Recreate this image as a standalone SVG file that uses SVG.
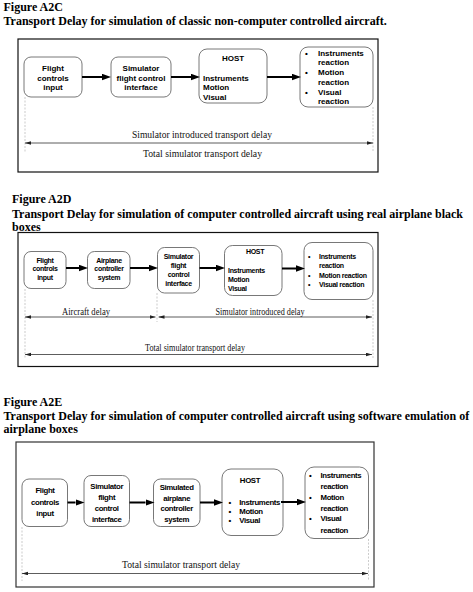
<svg xmlns="http://www.w3.org/2000/svg" width="473" height="592" viewBox="0 0 473 592">
<defs>
<marker id="ah" markerUnits="userSpaceOnUse" markerWidth="9" markerHeight="7" refX="0" refY="3.25" orient="auto"><path d="M0,0 L9,3.25 L0,6.5 z" fill="#000"/></marker>
<marker id="dh" markerUnits="userSpaceOnUse" markerWidth="6" markerHeight="4" refX="6" refY="1.8" orient="auto-start-reverse"><path d="M0,0 L6,1.8 L0,3.6 z" fill="#222"/></marker>
</defs>
<style>
.ttl{font-family:"Liberation Serif","Times New Roman",serif;font-weight:bold;font-size:12px;fill:#000}
.frame{fill:none;stroke:#111;stroke-width:1.2}
.box{fill:#fff;stroke:#555;stroke-width:0.8}
.c{font-family:"Liberation Sans",Arial,sans-serif;font-weight:bold;font-size:8px;fill:#000}
.d{font-family:"Liberation Sans",Arial,sans-serif;font-weight:bold;font-size:7px;letter-spacing:-0.3px;fill:#000}
.e{font-family:"Liberation Sans",Arial,sans-serif;font-weight:bold;font-size:7.8px;letter-spacing:-0.35px;fill:#000}
.m{text-anchor:middle}
.lbl{font-family:"Liberation Serif","Times New Roman",serif;font-size:9.5px;fill:#111;text-anchor:middle}
.arr{stroke:#000;stroke-width:2;fill:none;marker-end:url(#ah)}
.dim{stroke:#333;stroke-width:0.8;fill:none;marker-start:url(#dh);marker-end:url(#dh)}
.guide{stroke:#aaa;stroke-width:0.6;stroke-dasharray:2 1.5;fill:none}
</style>
<rect width="473" height="592" fill="#fff"/>

<!-- ===== Figure A2C ===== -->
<g id="a2c-title">
<text class="ttl" x="3.5" y="10.5">Figure A2C</text>
<text class="ttl" x="3.5" y="24.5">Transport Delay for simulation of classic non-computer controlled aircraft.</text>
</g>
<rect id="a2c-frame" class="frame" x="18" y="39" width="360" height="133"/>
<g id="a2c-n1"><rect class="box" x="24" y="57" width="58" height="40" rx="7"/>
<text class="c m" x="53" y="71">Flight</text><text class="c m" x="53" y="80.5">controls</text><text class="c m" x="53" y="90">input</text></g>
<g id="a2c-n2"><rect class="box" x="111" y="57" width="60" height="40" rx="7"/>
<text class="c m" x="141" y="71">Simulator</text><text class="c m" x="141" y="80.5">flight control</text><text class="c m" x="141" y="90">interface</text></g>
<g id="a2c-n3"><rect class="box" x="199" y="49" width="68" height="54" rx="8"/>
<text class="c m" x="233" y="61">HOST</text><text class="c" x="203" y="80.7">Instruments</text><text class="c" x="203" y="90.3">Motion</text><text class="c" x="203" y="99.8">Visual</text></g>
<g id="a2c-n4"><rect class="box" x="300" y="47" width="73" height="60" rx="8"/>
<text class="c" x="305" y="55.5">•</text><text class="c" x="318" y="55.5">Instruments</text><text class="c" x="318" y="65">reaction</text>
<text class="c" x="305" y="75">•</text><text class="c" x="318" y="75">Motion</text><text class="c" x="318" y="84.5">reaction</text>
<text class="c" x="305" y="94.5">•</text><text class="c" x="318" y="94.5">Visual</text><text class="c" x="318" y="104">reaction</text></g>
<g id="a2c-connectors">
<line class="arr" x1="82" y1="77" x2="102" y2="77"/>
<line class="arr" x1="171" y1="77" x2="191" y2="77"/>
<line class="arr" x1="267" y1="77" x2="292" y2="77"/>
<line class="guide" x1="25" y1="97" x2="25" y2="152"/>
<line class="guide" x1="373" y1="107" x2="373" y2="152"/>
<line class="dim" x1="25" y1="143" x2="373" y2="143"/>
<text class="lbl" x="202" y="138" textLength="140" lengthAdjust="spacingAndGlyphs">Simulator introduced transport delay</text>
<text class="lbl" x="202.5" y="156.5" textLength="119" lengthAdjust="spacingAndGlyphs">Total simulator transport delay</text>
</g>

<!-- ===== Figure A2D ===== -->
<g id="a2d-title">
<text class="ttl" x="12" y="203">Figure A2D</text>
<text class="ttl" x="12" y="217.5">Transport Delay for simulation of computer controlled aircraft using real airplane black</text>
<text class="ttl" x="12" y="230.5">boxes</text>
</g>
<rect id="a2d-frame" class="frame" x="18" y="232.5" width="360" height="134"/>
<g id="a2d-n1"><rect class="box" x="24" y="251.5" width="42" height="37" rx="7"/>
<text class="d m" x="45" y="262.5">Flight</text><text class="d m" x="45" y="271">controls</text><text class="d m" x="45" y="279.5">input</text></g>
<g id="a2d-n2"><rect class="box" x="87.5" y="251.5" width="42.5" height="37" rx="7"/>
<text class="d m" x="109" y="262.5">Airplane</text><text class="d m" x="109" y="271">controller</text><text class="d m" x="109" y="279.5">system</text></g>
<g id="a2d-n3"><rect class="box" x="157.5" y="247.5" width="42" height="45.5" rx="7"/>
<text class="d m" x="178.5" y="259">Simulator</text><text class="d m" x="178.5" y="268">flight</text><text class="d m" x="178.5" y="277">control</text><text class="d m" x="178.5" y="286">interface</text></g>
<g id="a2d-n4"><rect class="box" x="224.5" y="245.5" width="57.5" height="50" rx="8"/>
<text class="d m" x="255" y="254">HOST</text><text class="d" x="228" y="272.5">Instruments</text><text class="d" x="228" y="281.5">Motion</text><text class="d" x="228" y="290.5">Visual</text></g>
<g id="a2d-n5"><rect class="box" x="304" y="242.5" width="69" height="57" rx="8"/>
<text class="d" x="308" y="259">•</text><text class="d" x="319" y="259">Instruments</text><text class="d" x="319" y="268">reaction</text>
<text class="d" x="308" y="277.5">•</text><text class="d" x="319" y="277.5">Motion reaction</text>
<text class="d" x="308" y="286.5">•</text><text class="d" x="319" y="286.5">Visual reaction</text></g>
<g id="a2d-connectors">
<line class="arr" x1="66" y1="268" x2="79" y2="268"/>
<line class="arr" x1="130" y1="268" x2="149" y2="268"/>
<line class="arr" x1="199.5" y1="268" x2="216" y2="268"/>
<line class="arr" x1="282" y1="268.5" x2="296" y2="268.5"/>
<line class="guide" x1="25" y1="289" x2="25" y2="358"/>
<line class="guide" x1="157" y1="293" x2="157" y2="322"/>
<line class="guide" x1="373" y1="300" x2="373" y2="358"/>
<line class="dim" x1="25" y1="317" x2="155.5" y2="317"/>
<line class="dim" x1="158.5" y1="317" x2="372" y2="317"/>
<line class="dim" x1="25" y1="354.5" x2="372" y2="354.5"/>
<text class="lbl" x="86" y="314.5" textLength="48" lengthAdjust="spacingAndGlyphs">Aircraft delay</text>
<text class="lbl" x="260" y="314.5" textLength="89" lengthAdjust="spacingAndGlyphs">Simulator introduced delay</text>
<text class="lbl" x="195" y="350.5" textLength="100" lengthAdjust="spacingAndGlyphs">Total simulator transport delay</text>
</g>

<!-- ===== Figure A2E ===== -->
<g id="a2e-title">
<text class="ttl" x="3.5" y="405.5">Figure A2E</text>
<text class="ttl" x="3.5" y="419.5">Transport Delay for simulation of computer controlled aircraft using software emulation of</text>
<text class="ttl" x="3.5" y="433">airplane boxes</text>
</g>
<rect id="a2e-frame" class="frame" x="16" y="442" width="358" height="145" style="stroke:#333"/>
<g id="a2e-n1"><rect class="box" x="22" y="479" width="45.5" height="47.5" rx="7"/>
<text class="e m" x="45" y="493">Flight</text><text class="e m" x="45" y="504.5">controls</text><text class="e m" x="45" y="516">input</text></g>
<g id="a2e-n2"><rect class="box" x="84" y="475.5" width="45.5" height="51" rx="7"/>
<text class="e m" x="106.7" y="488.5">Simulator</text><text class="e m" x="106.7" y="499.5">flight</text><text class="e m" x="106.7" y="510.5">control</text><text class="e m" x="106.7" y="521.8">interface</text></g>
<g id="a2e-n3"><rect class="box" x="153.5" y="479" width="46.5" height="47.5" rx="7"/>
<text class="e m" x="176.7" y="489.5">Simulated</text><text class="e m" x="176.7" y="500.5">airplane</text><text class="e m" x="176.7" y="511.2">controller</text><text class="e m" x="176.7" y="522.2">system</text></g>
<g id="a2e-n4"><rect class="box" x="222" y="469" width="61" height="66.5" rx="9"/>
<text class="e m" x="250" y="483">HOST</text>
<text class="e" x="228.5" y="504.5">•</text><text class="e" x="239.3" y="504.5">Instruments</text>
<text class="e" x="228.5" y="513.8">•</text><text class="e" x="239.3" y="513.8">Motion</text>
<text class="e" x="228.5" y="523">•</text><text class="e" x="239.3" y="523">Visual</text></g>
<g id="a2e-n5"><rect class="box" x="305" y="467" width="63.5" height="71.5" rx="9"/>
<text class="e" x="309" y="477.8">•</text><text class="e" x="320.5" y="477.8">Instruments</text><text class="e" x="320.5" y="488.5">reaction</text>
<text class="e" x="309" y="499.5">•</text><text class="e" x="320.5" y="499.5">Motion</text><text class="e" x="320.5" y="510.5">reaction</text>
<text class="e" x="309" y="521">•</text><text class="e" x="320.5" y="521">Visual</text><text class="e" x="320.5" y="532.8">reaction</text></g>
<g id="a2e-connectors">
<line class="arr" x1="67.5" y1="502.5" x2="75.5" y2="502.5"/>
<line class="arr" x1="129.5" y1="502.5" x2="145.5" y2="502.5"/>
<line class="arr" x1="200" y1="502.5" x2="214" y2="502.5"/>
<line class="arr" x1="281" y1="502" x2="297" y2="502"/>
<line class="guide" x1="22" y1="527" x2="22" y2="581"/>
<line class="guide" x1="368.5" y1="539" x2="368.5" y2="581"/>
<line class="dim" x1="22" y1="573.5" x2="368" y2="573.5"/>
<text class="lbl" x="181" y="568" textLength="118" lengthAdjust="spacingAndGlyphs">Total simulator transport delay</text>
</g>
</svg>
